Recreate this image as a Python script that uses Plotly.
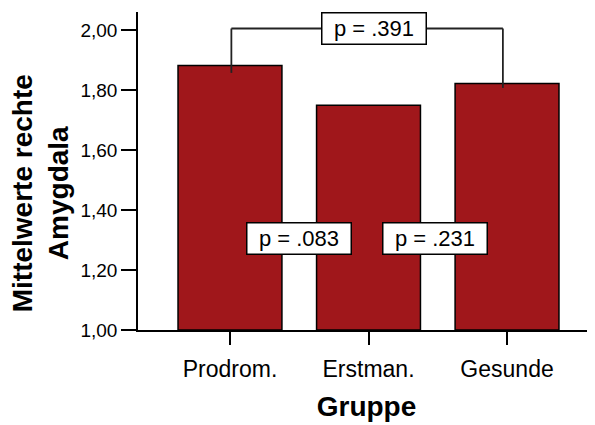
import plotly.graph_objects as go

groups = ["Prodrom.", "Erstman.", "Gesunde"]
means = [1.882, 1.749, 1.822]
y_ticks = [1.0, 1.2, 1.4, 1.6, 1.8, 2.0]
p_top = "p = .391"
p_low = ["p = .083", "p = .231"]

FONT = "Liberation Sans, Arial, sans-serif"
BAR = "#a0171b"

fig = go.Figure()
fig.add_trace(go.Bar(
    x=[0, 1, 2], y=[m - 1.0 for m in means], base=1.0,
    width=0.75, marker=dict(color=BAR, line=dict(color="black", width=1.5)),
    hoverinfo="skip",
))

# bracket between group 0 and group 2
bracket_y = 2.005
LINE = dict(color="#222", width=1.8)
fig.add_shape(type="line", xref="x", yref="y", x0=0.01, x1=0.01, y0=means[0] - 0.025, y1=bracket_y,
              line=LINE, layer="above")
fig.add_shape(type="line", xref="x", yref="y", x0=0.01, x1=1.97, y0=bracket_y, y1=bracket_y,
              line=LINE, layer="above")
fig.add_shape(type="line", xref="x", yref="y", x0=1.97, x1=1.97, y0=means[2] - 0.015, y1=bracket_y,
              line=LINE, layer="above")

box = dict(bgcolor="white", bordercolor="black", borderwidth=1.5, borderpad=1,
           width=101, height=28, showarrow=False, font=dict(family=FONT, size=22, color="black"),
           xref="x", yref="y")
fig.add_annotation(text=p_top, x=1.04, y=bracket_y, **box)
fig.add_annotation(text=p_low[0], x=0.5, y=1.305, **box)
fig.add_annotation(text=p_low[1], x=1.48, y=1.305, **box)

# y title
fig.add_annotation(text="<b>Mittelwerte rechte<br>Amygdala</b>", textangle=-90,
                   xref="paper", yref="paper", x=(40 - 138) / 457, y=0.43,
                   xanchor="center", yanchor="middle", showarrow=False,
                   font=dict(family=FONT, size=28, color="black"))

# page body has an 8px margin: figure is sized/offset to fit the 595x425 window
fig.update_layout(
    width=587, height=417,
    margin=dict(l=130, r=0, t=4, b=95),
    paper_bgcolor="white", plot_bgcolor="white",
    showlegend=False,
    separators=",.",
    font=dict(family=FONT, color="black"),
    xaxis=dict(
        range=[-0.664, 2.635], tickvals=[0, 1, 2], ticktext=groups,
        showgrid=False, zeroline=False, showline=True, linecolor="black", linewidth=1.5,
        ticks="outside", ticklen=13, tickwidth=1.5, tickcolor="black",
        tickfont=dict(family=FONT, size=23, color="black"),
        ticklabelstandoff=5,
        title=dict(text="<b>Gruppe</b>", font=dict(family=FONT, size=28, color="black"), standoff=15),
    ),
    yaxis=dict(
        range=[1.0, 2.06], tickvals=y_ticks, tickformat=".2f",
        showgrid=False, zeroline=False, showline=True, linecolor="black", linewidth=1.5,
        ticks="outside", ticklen=15, tickwidth=1.5, tickcolor="black",
        tickfont=dict(family=FONT, size=19, color="black"),
    ),
)

fig.write_html("out.html")
